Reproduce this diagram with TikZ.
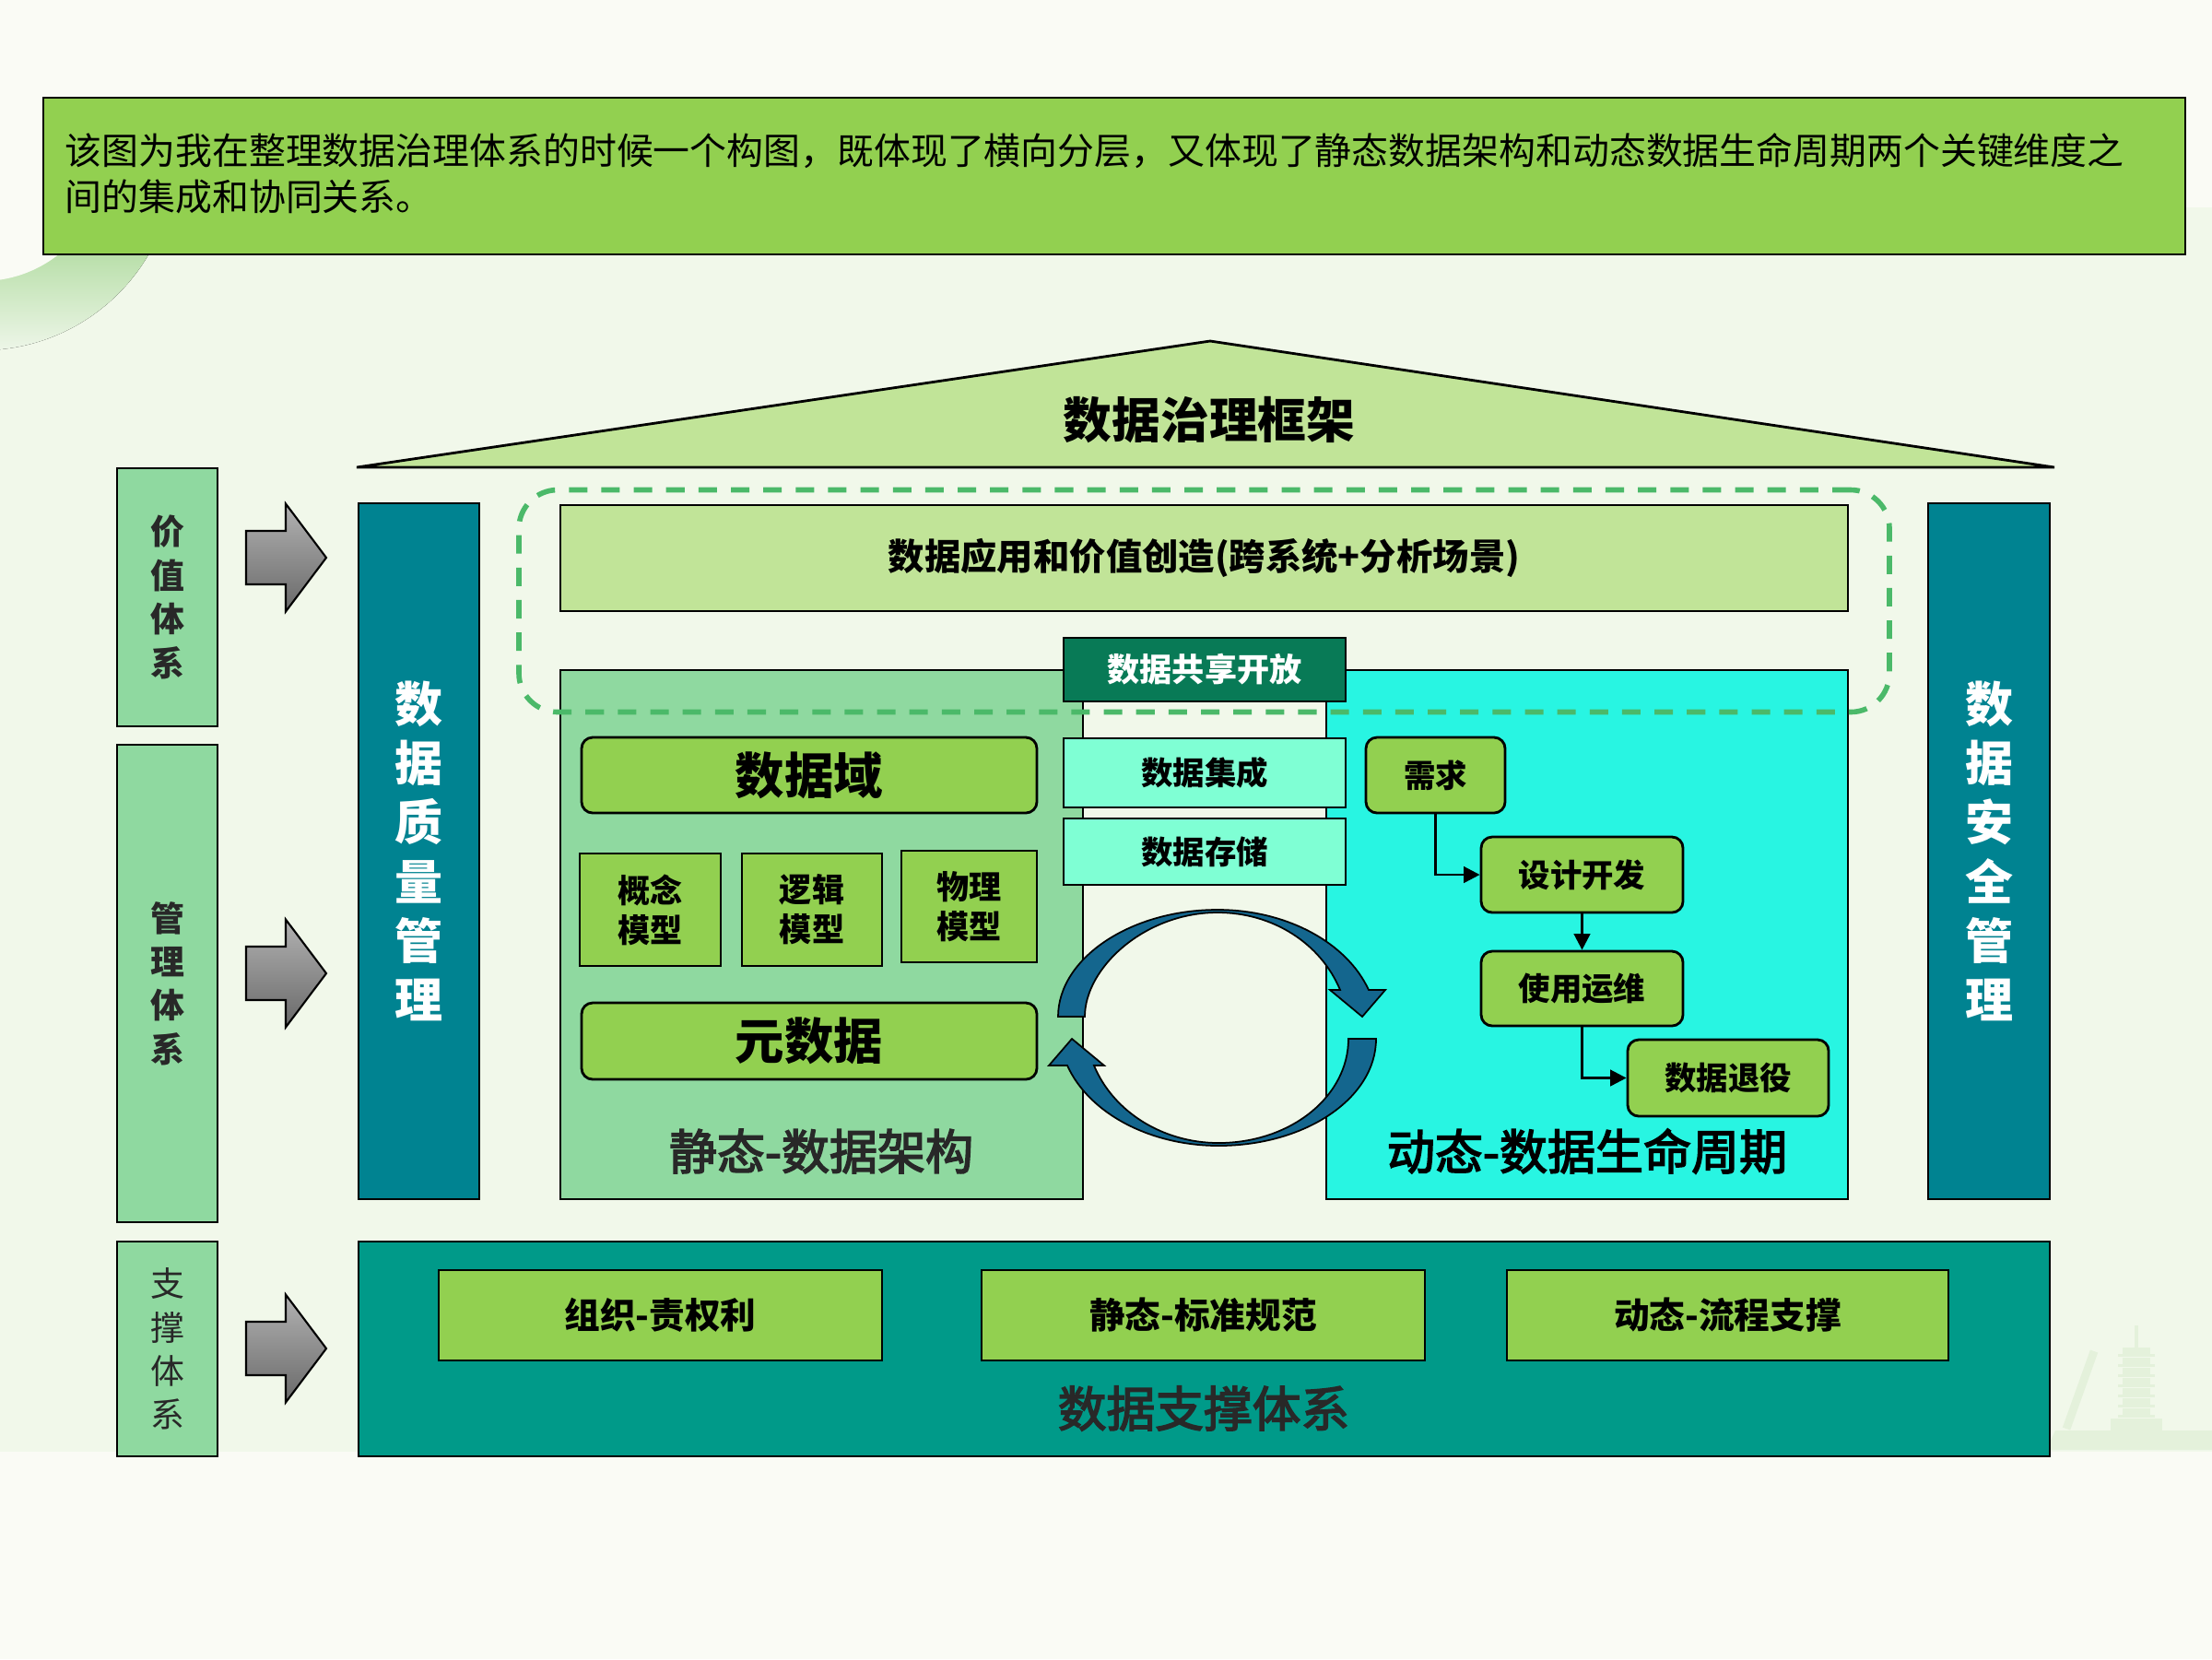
\documentclass[tikz,border=0pt]{standalone}
\usepackage{fontspec}
\setmainfont{Noto Sans CJK SC}
\newfontfamily\medfont[FakeBold=3]{Noto Sans CJK SC}
\usetikzlibrary{arrows.meta}
\newcommand\myfs[2]{\fontsize{#1}{#2}\selectfont}
\definecolor{bgtop}{RGB}{250,251,245}
\definecolor{bgmid}{RGB}{241,248,234}
\definecolor{limeg}{RGB}{146,208,80}
\definecolor{lightg}{RGB}{143,217,160}
\definecolor{paleg}{RGB}{193,228,152}
\definecolor{tealbar}{RGB}{0,131,145}
\definecolor{tealbase}{RGB}{0,154,137}
\definecolor{cyanblk}{RGB}{40,245,226}
\definecolor{aqua}{RGB}{127,255,212}
\definecolor{darkg}{RGB}{8,122,86}
\definecolor{dashg}{RGB}{75,185,105}
\definecolor{cyclec}{RGB}{20,102,142}
\definecolor{txtdark}{RGB}{40,40,40}
\definecolor{arrtop}{RGB}{178,178,178}
\definecolor{arrbot}{RGB}{105,105,105}
\definecolor{ringtop}{RGB}{160,212,140}
\definecolor{ringbot}{RGB}{240,247,235}
\definecolor{pag}{RGB}{228,241,219}
\begin{document}
\begin{tikzpicture}[x=1cm,y=-1cm,
  box/.style={draw=black, line width=0.8pt, inner sep=0pt, align=center, text=black},
  rbox/.style={box, rounded corners=0.12cm},
  conn/.style={draw=black, line width=0.8pt, -{Triangle[length=5pt,width=5pt]}},
  bigarrow/.style={draw=black, line width=0.6pt, top color=arrtop, bottom color=arrbot},
  cyclearrow/.style={draw=black, line width=0.5pt, fill=cyclec}]
\useasboundingbox (0,0) rectangle (24,18);
% background
\fill[bgtop] (0,0) rectangle (24,18);
\fill[bgmid] (0,2.25) rectangle (24,15.75);
% decorative ring
\begin{scope}
  \clip (-0.2,1.7) circle (2.1);
  \fill[top color=ringtop, bottom color=ringbot] (-0.5,2.25) rectangle (2.5,3.85);
  \fill[bgtop] (-0.2,1.7) circle (1.35);
\end{scope}
% faint pagoda
\begin{scope}[pag]
  \draw[line width=1.2pt] (23.18,14.38) -- (23.18,14.62);
  \foreach \i in {0,...,6} {
    \fill (23.03,{14.62+\i*0.11}) rectangle (23.33,{14.70+\i*0.11});
    \fill (22.98,{14.69+\i*0.11}) rectangle (23.38,{14.72+\i*0.11});
  }
  \fill (22.90,15.39) rectangle (23.46,15.52);
  \fill (22.30,15.52) -- (24,15.52) -- (24,15.73) -- (22.20,15.73) -- cycle;
  \draw[line width=2.5pt] (22.72,14.66) -- (22.42,15.50);
\end{scope}
% top description
\node[box, fill=limeg, minimum width=23.24cm, minimum height=1.70cm] (desc) at (12.09,1.91) {};
\node[anchor=west, align=left, inner sep=0pt, font=\myfs{11.35}{14.2}] (desctext) at (0.70,1.885)
  {该图为我在整理数据治理体系的时候一个构图，既体现了横向分层，又体现了静态数据架构和动态数据生命周期两个关键维度之\\间的集成和协同关系。};
% roof
\draw[fill=paleg, line width=0.8pt] (3.87,5.07) -- (13.13,3.70) -- (22.29,5.07) -- cycle;
\node[font=\bfseries\myfs{15}{18}] (roof) at (13.12,4.56) {数据治理框架};
% left side boxes
\node[box, fill=lightg, minimum width=1.09cm, minimum height=2.80cm, font=\bfseries\myfs{10.5}{13.5}, text=txtdark] (value) at (1.815,6.48) {价\\值\\体\\系};
\node[box, fill=lightg, minimum width=1.09cm, minimum height=5.18cm, font=\bfseries\myfs{10.5}{13.5}, text=txtdark] (manage) at (1.815,10.67) {管\\理\\体\\系};
\node[box, fill=lightg, minimum width=1.09cm, minimum height=2.33cm, font=\myfs{10.5}{13.5}, text=txtdark] (support) at (1.815,14.635) {支\\撑\\体\\系};
% grey block arrows
\foreach \cy in {6.05,10.56,14.63} {
  \draw[bigarrow] (2.67,{\cy-0.29}) -- (3.10,{\cy-0.29}) -- (3.10,{\cy-0.585}) -- (3.54,\cy)
    -- (3.10,{\cy+0.585}) -- (3.10,{\cy+0.29}) -- (2.67,{\cy+0.29}) -- cycle;
}
% teal side bars
\node[box, fill=tealbar, minimum width=1.31cm, minimum height=7.55cm, text=white, font=\bfseries\myfs{14.8}{18.3}] (quality) at (4.545,9.235) {数\\据\\质\\量\\管\\理};
\node[box, fill=tealbar, minimum width=1.32cm, minimum height=7.55cm, text=white, font=\bfseries\myfs{14.8}{18.3}] (security) at (21.58,9.235) {数\\据\\安\\全\\管\\理};
% application layer
\node[box, fill=paleg, minimum width=13.97cm, minimum height=1.15cm, font=\bfseries\myfs{11.2}{13}] (app) at (13.065,6.055) {数据应用和价值创造(跨系统+分析场景)};
% static and dynamic blocks
\node[box, fill=lightg, minimum width=5.67cm, minimum height=5.74cm] (static) at (8.915,10.14) {};
\node[box, fill=cyanblk, minimum width=5.66cm, minimum height=5.74cm] (dynamic) at (17.22,10.14) {};
% middle column
\node[box, fill=darkg, text=white, minimum width=3.06cm, minimum height=0.69cm, font=\bfseries\myfs{10}{12}] (share) at (13.07,7.265) {数据共享开放};
\node[box, fill=aqua, minimum width=3.06cm, minimum height=0.75cm, font=\bfseries\myfs{9.8}{12}] (integ) at (13.07,8.385) {数据集成};
\node[box, fill=aqua, minimum width=3.06cm, minimum height=0.72cm, font=\bfseries\myfs{9.8}{12}] (storage) at (13.07,9.24) {数据存储};
% static contents
\node[rbox, fill=limeg, minimum width=4.94cm, minimum height=0.82cm, font=\bfseries\myfs{15.2}{18}] (domain) at (8.78,8.41) {数据域};
\node[box, fill=limeg, minimum width=1.53cm, minimum height=1.22cm, font=\bfseries\myfs{10}{12.2}] (concept) at (7.055,9.87) {概念\\模型};
\node[box, fill=limeg, minimum width=1.52cm, minimum height=1.22cm, font=\bfseries\myfs{10}{12.2}] (logic) at (8.81,9.87) {逻辑\\模型};
\node[box, fill=limeg, minimum width=1.47cm, minimum height=1.21cm, font=\bfseries\myfs{10}{12.2}] (physical) at (10.515,9.835) {物理\\模型};
\node[rbox, fill=limeg, minimum width=4.94cm, minimum height=0.83cm, font=\bfseries\myfs{15.2}{18}] (meta) at (8.78,11.295) {元数据};
\node[text=txtdark, font=\medfont\myfs{14.8}{18}] (staticlbl) at (8.91,12.49) {静态-数据架构};
% dynamic contents
\node[rbox, fill=limeg, minimum width=1.51cm, minimum height=0.82cm, font=\bfseries\myfs{9.8}{12}] (need) at (15.575,8.41) {需求};
\node[rbox, fill=limeg, minimum width=2.19cm, minimum height=0.82cm, font=\bfseries\myfs{9.8}{12}] (design) at (17.165,9.49) {设计开发};
\node[rbox, fill=limeg, minimum width=2.19cm, minimum height=0.81cm, font=\bfseries\myfs{9.8}{12}] (operate) at (17.165,10.725) {使用运维};
\node[rbox, fill=limeg, minimum width=2.18cm, minimum height=0.83cm, font=\bfseries\myfs{9.8}{12}] (retire) at (18.75,11.695) {数据退役};
\draw[conn] (need.south) |- (design.west);
\draw[conn] (design.south) -- (operate.north);
\draw[conn] (operate.south) |- (retire.west);
\node[text=black, font=\medfont\myfs{14.8}{18}] (dynlbl) at (17.22,12.49) {动态-数据生命周期};
% cycle arrows
\draw[cyclearrow] (11.48,11.03) .. controls (11.48,10.40) and (12.26,9.87) .. (13.21,9.87)
  .. controls (13.95,9.87) and (14.61,10.22) .. (14.85,10.74)
  -- (15.03,10.74) -- (14.78,11.03) -- (14.43,10.74) -- (14.54,10.74)
  .. controls (14.33,10.235) and (13.81,9.90) .. (13.21,9.90)
  .. controls (12.42,9.90) and (11.77,10.50) .. (11.77,11.03) -- cycle;
\draw[cyclearrow] (14.93,11.27) .. controls (14.93,11.91) and (14.17,12.43) .. (13.22,12.43)
  .. controls (12.48,12.43) and (11.815,12.08) .. (11.58,11.56)
  -- (11.38,11.56) -- (11.63,11.27) -- (11.98,11.56) -- (11.87,11.56)
  .. controls (12.08,12.065) and (12.62,12.40) .. (13.22,12.40)
  .. controls (14.01,12.40) and (14.63,11.89) .. (14.63,11.27) -- cycle;
% dashed frame around application layer
\node[draw=dashg, line width=1.6pt, dash pattern=on 5.7pt off 4.3pt, rounded corners=0.42cm, minimum width=14.87cm, minimum height=2.41cm, inner sep=0pt] (appframe) at (13.065,6.52) {};
% bottom support layer
\node[box, fill=tealbase, minimum width=18.35cm, minimum height=2.33cm] (base) at (13.065,14.635) {};
\node[box, fill=limeg, minimum width=4.81cm, minimum height=0.98cm, font=\bfseries\myfs{11}{13}] (org) at (7.165,14.27) {组织-责权利};
\node[box, fill=limeg, minimum width=4.81cm, minimum height=0.98cm, font=\bfseries\myfs{11}{13}] (standard) at (13.055,14.27) {静态-标准规范};
\node[box, fill=limeg, minimum width=4.79cm, minimum height=0.98cm, font=\bfseries\myfs{11}{13}] (process) at (18.745,14.27) {动态-流程支撑};
\node[text=txtdark, font=\medfont\myfs{15}{18}] (baselbl) at (13.06,15.28) {数据支撑体系};
\end{tikzpicture}
\end{document}
